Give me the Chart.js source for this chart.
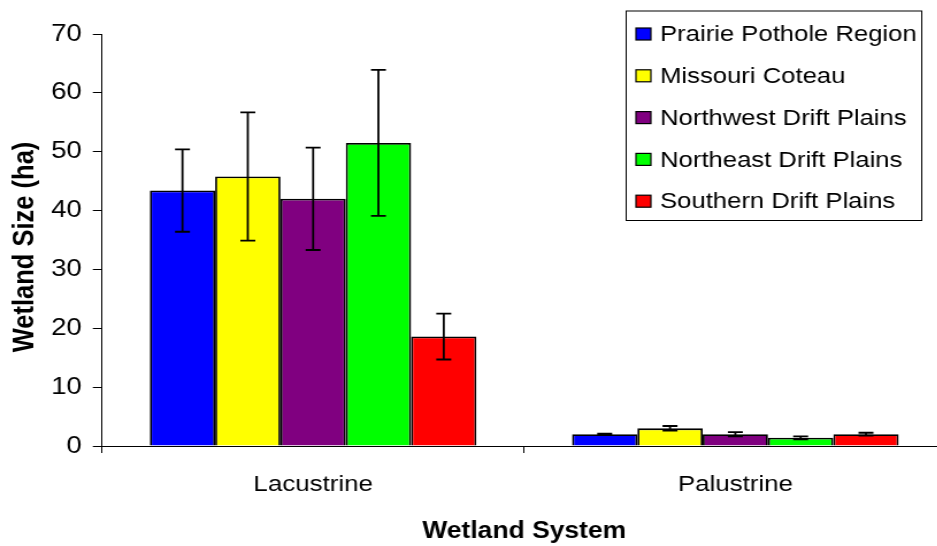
<!DOCTYPE html>
<html>
<head>
<meta charset="utf-8">
<script src="https://cdn.jsdelivr.net/npm/chart.js@4/dist/chart.umd.min.js"></script>
<style>
  html, body { margin: 0; padding: 0; background: #fff; overflow: hidden; width: 937px; height: 546px; }
  /* the chart is drawn slightly narrow and widened horizontally */
  #wrap { position: absolute; left: 0; top: 0; width: 823px; height: 546px; transform: scaleX(1.15); transform-origin: 0 0; }
  canvas { display: block; }
</style>
</head>
<body>
<div id="wrap"><canvas id="chart" width="823" height="546"></canvas></div>
<script>
// Mean wetland size by system and region, with error bars
const categories = ['Lacustrine', 'Palustrine'];

const regionNames = [
  'Prairie Pothole Region',
  'Missouri Coteau',
  'Northwest Drift Plains',
  'Northeast Drift Plains',
  'Southern Drift Plains'
];

const prairiePothole = [43.4, 2.0];
const missouriCoteau = [45.8, 3.0];
const northwestDrift = [42.0, 2.0];
const northeastDrift = [51.5, 1.4];
const southernDrift  = [18.6, 2.0];

const prairiePotholeErr = [7.0, 0.1];
const missouriCoteauErr = [10.9, 0.4];
const northwestDriftErr = [8.7, 0.35];
const northeastDriftErr = [12.4, 0.25];
const southernDriftErr  = [3.9, 0.25];

const yTicks = [0, 10, 20, 30, 40, 50, 60, 70];

const yTitle = 'Wetland Size (ha)';
const xTitle = 'Wetland System';

const seriesValues = [prairiePothole, missouriCoteau, northwestDrift, northeastDrift, southernDrift];
const seriesErrors = [prairiePotholeErr, missouriCoteauErr, northwestDriftErr, northeastDriftErr, southernDriftErr];
const seriesColors = ['#0000FF', '#FFFF00', '#800080', '#00FF00', '#FF0000'];

const FONT = '"Liberation Sans", Arial, Helvetica, sans-serif';

// vertical error bars with caps, placed through the y scale
const errorBars = {
  id: 'errorBars',
  afterDatasetsDraw(chart) {
    const ctx = chart.ctx;
    const y = chart.scales.y;
    ctx.save();
    ctx.strokeStyle = '#000';
    ctx.lineWidth = 1.8;
    chart.data.datasets.forEach((ds, i) => {
      const meta = chart.getDatasetMeta(i);
      meta.data.forEach((bar, j) => {
        const v = ds.data[j];
        const e = seriesErrors[i][j];
        const yt = y.getPixelForValue(v + e);
        const yb = y.getPixelForValue(v - e);
        const x = bar.x;
        const half = 6.5;
        ctx.beginPath();
        ctx.moveTo(x, yt); ctx.lineTo(x, yb);
        ctx.moveTo(x - half, yt); ctx.lineTo(x + half, yt);
        ctx.moveTo(x - half, yb); ctx.lineTo(x + half, yb);
        ctx.stroke();
      });
    });
    ctx.restore();
  }
};

// rotated y axis title, centred a little below the plot middle
const yAxisTitle = {
  id: 'yAxisTitle',
  afterDraw(chart) {
    const ctx = chart.ctx;
    ctx.save();
    ctx.translate(21.7, 247);
    ctx.rotate(-Math.PI / 2);
    ctx.font = 'bold 25.5px ' + FONT;
    ctx.fillStyle = '#000';
    ctx.textAlign = 'center';
    ctx.textBaseline = 'middle';
    ctx.fillText(yTitle, 0, 0);
    ctx.restore();
  }
};

// boxed legend in the upper right corner
const boxLegend = {
  id: 'boxLegend',
  afterDraw(chart) {
    const ctx = chart.ctx;
    const left = 544, top = 10.5, right = 802, bottom = 221;
    ctx.save();
    ctx.fillStyle = '#fff';
    ctx.fillRect(left, top, right - left, bottom - top);
    ctx.strokeStyle = '#000';
    ctx.lineWidth = 1;
    ctx.strokeRect(left + 0.5, top + 0.5, right - left - 1, bottom - top - 1);
    ctx.font = '22.3px ' + FONT;
    ctx.textBaseline = 'middle';
    ctx.textAlign = 'left';
    chart.data.datasets.forEach((ds, i) => {
      const cy = 34 + 41.8 * i;
      ctx.fillStyle = ds.backgroundColor;
      ctx.fillRect(553, cy - 6, 13, 12);
      ctx.strokeStyle = '#000';
      ctx.lineWidth = 1.2;
      ctx.strokeRect(553, cy - 6, 13, 12);
      ctx.fillStyle = '#000';
      ctx.fillText(ds.label, 574, cy + 1);
    });
    ctx.restore();
  }
};

new Chart(document.getElementById('chart'), {
  type: 'bar',
  data: {
    labels: categories,
    datasets: regionNames.map((name, i) => ({
      label: name,
      data: seriesValues[i],
      backgroundColor: seriesColors[i],
      borderColor: '#000',
      borderWidth: 1.8,
      categoryPercentage: 0.7735,
      barPercentage: 1.0
    }))
  },
  options: {
    responsive: false,
    animation: false,
    devicePixelRatio: 1,
    layout: { padding: { top: 34, left: 0, right: 0, bottom: 0 } },
    plugins: {
      legend: { display: false },
      tooltip: { enabled: false }
    },
    scales: {
      x: {
        offset: true,
        border: { display: true, color: '#000', width: 1 },
        grid: { display: true, offset: true, drawOnChartArea: false, drawTicks: true, tickLength: 7, color: '#000', lineWidth: 1 },
        ticks: { color: '#000', font: { family: FONT, size: 22.5 }, padding: 18, maxRotation: 0 },
        title: {
          display: true, text: xTitle, color: '#000',
          font: { family: FONT, size: 23, weight: 'bold' },
          padding: { top: 0, bottom: 1 }
        },
        afterFit(scale) { scale.height = 100; }
      },
      y: {
        min: 0, max: 70,
        border: { display: true, color: '#000', width: 1 },
        grid: { drawOnChartArea: false, drawTicks: true, tickLength: 8, color: '#000', lineWidth: 1 },
        afterBuildTicks(scale) { scale.ticks = yTicks.map(v => ({ value: v })); },
        ticks: { color: '#000', font: { family: FONT, size: 24 }, padding: 9.5 },
        title: { display: false },
        afterFit(scale) { scale.width = 88.7; }
      }
    }
  },
  plugins: [errorBars, yAxisTitle, boxLegend]
});
</script>
</body>
</html>
